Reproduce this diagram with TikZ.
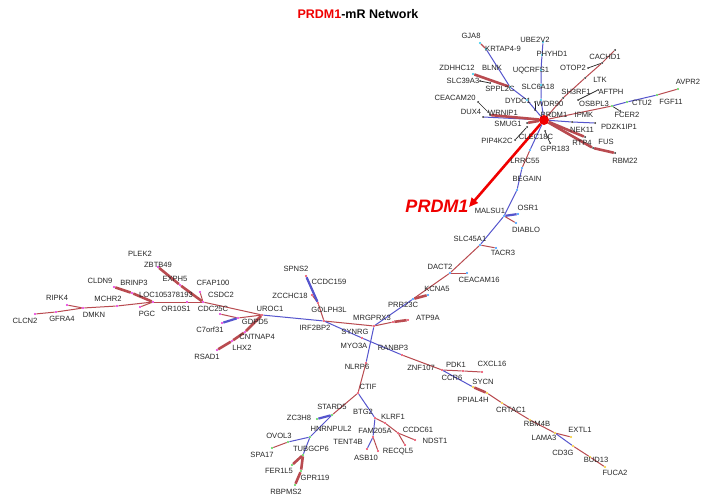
\documentclass[tikz,border=0pt]{standalone}
\usepackage{fontspec}
\setmainfont{Liberation Sans}
\usetikzlibrary{arrows.meta}
\definecolor{ered}{RGB}{185,75,80}
\definecolor{eblue}{RGB}{85,85,205}
\definecolor{dcyan}{RGB}{40,200,235}
\definecolor{dgreen}{RGB}{80,210,80}
\definecolor{dblue}{RGB}{50,150,255}
\definecolor{dpink}{RGB}{235,60,90}
\definecolor{dmag}{RGB}{230,40,220}
\definecolor{dyel}{RGB}{245,200,40}
\definecolor{dgrey}{RGB}{40,40,40}
\definecolor{hubred}{RGB}{240,0,0}
\pgfdeclarelayer{bg}
\pgfsetlayers{bg,main}
\tikzset{
  lbl/.style={font=\fontsize{7.6}{9}\selectfont, inner sep=0pt, text=black!85},
  dot/.style={circle, inner sep=0pt, minimum size=2.4pt, fill=#1},
  er/.style={draw=ered, line width=1pt},
  eb/.style={draw=eblue, line width=1pt},
  ert/.style={draw=ered, line width=2.6pt},
  ebt/.style={draw=eblue, line width=2.2pt},
  ek/.style={draw=black!85, line width=0.7pt},
}
\begin{document}
\begin{tikzpicture}[x=1pt,y=-1pt]
\useasboundingbox (0,0) rectangle (702,503);
\begin{pgfonlayer}{bg}
\fill[white] (0,0) rectangle (702,503);
\end{pgfonlayer}
% title
\node[font=\fontsize{12.5}{14}\bfseries\selectfont, inner sep=0pt] (title) at (358,14) {\textcolor{hubred}{PRDM1}-mR Network};
\node[font=\fontsize{18}{20}\bfseries\itshape\selectfont, text=hubred, inner sep=0pt] (bigp) at (437,206) {PRDM1};

% ---------- dots: top cluster ----------
\node[circle, inner sep=0pt, minimum size=10pt, fill=hubred] (H) at (544,120) {};
\foreach \n/\x/\y in {ub/543/42, u4/542/55, u3/541/70, u2/541/85, u1/541/100, gj/480/43, k2/486/49, k1/510/87, k0/527/100, zd/473/74}
  \node[dot=dcyan] (\n) at (\x,\y) {};
\foreach \n/\x/\y in {dx/483/117, wr/490/115, sm/527/123, lt/585/78, c1/563/98, c3/602/63, ca/615/50, pda/572/122, pdb/595/123, ne/585/137, rt/593/148, rb/615/153, sa/480/81, sb/490/83, cea/478/102, ceb/488/112, pia/515/140, pib/527/127, dya/535/102, dyb/535/110, ot/588/68, sha/578/100, shb/598/90, fc/620/111, gpa/545/131, gpb/550/143}
  \node[dot=dgrey, minimum size=2pt] (\n) at (\x,\y) {};
\foreach \n/\x/\y in {os/612/106, ctu/627/102, g2/657/95, av/678/89}
  \node[dot=dgreen] (\n) at (\x,\y) {};
\coordinate (atip) at (469,207);

% ---------- dots: middle ----------
\foreach \n/\x/\y in {lr/530/150, lrb/522/168, bg/517/190, ma/504/216, osr/518/214, di/516/223, sl/480/245, ta/496/248, da/450/273, ce16/467/273, kc/428/295, pr/413/299}
  \node[dot=dblue] (\n) at (\x,\y) {};
\foreach \n/\x/\y in {mr/374/326, ata/393/322, at/408/320, ir/324/321, go/318/303, zc/312/295, sp/306/276, ur/262/315, sy/362/338, ra/402/355, nl/366/363, zn/442/370, pdk/463/371, cx/482/372}
  \node[dot=dpink] (\n) at (\x,\y) {};
\foreach \n/\x/\y in {sc/473/387, sc2/487/393, cr/502/403, rb4/530/420, la/555/433, ex/571/437, cd/573/446, bu/590/457, fu/605/467}
  \node[dot=dyel] (\n) at (\x,\y) {};
% ---------- dots: bottom ----------
\foreach \n/\x/\y in {st/332/415, z3/317/419, hn/310/437, ov/288/442, spa/272/448, tu/303/455, fe/292/465, gp/301/471, rbp/295/485}
  \node[dot=dgreen] (\n) at (\x,\y) {};
\foreach \n/\x/\y in {ct/358/393, bt/375/418, kl/385/423, cc/398/433, nd/415/440, ccb/405/445, fa/373/437, as/367/449, re/378/451}
  \node[dot=dpink] (\n) at (\x,\y) {};
% ---------- dots: left ----------
\foreach \n/\x/\y in {cdc/203/302, or/187/302, loc/153/302, pg/140/307, mc/117/306, dm/83/308, gf/56/312, cl/35/314, ri/67/305, br/132/293, cdn/114/287, exh/180/285, zb/158/267, cf/200/292, gd/238/318, c7a/220/314, c7b/222/323, cn/245/332, lh/232/341, rs/217/350}
  \node[dot=dmag] (\n) at (\x,\y) {};

% ---------- edges ----------
\begin{pgfonlayer}{bg}
% top cluster
\draw[eb] (H) -- (u1) -- (u2) -- (u3) -- (u4) -- (ub);
\draw[eb] (H) -- (k0) -- (k1) -- (k2);
\draw[er, line width=1.3pt] (k2) -- (gj);
\draw[ert] (zd) -- (k1);
\draw[ek] (sa) -- (sb);
\draw[ek] (cea) -- (ceb);
\draw[ek] (pia) -- (pib);
\draw[ek] (dya) -- (dyb);
\draw[ek] (ot) -- (c3);
\draw[ek] (sha) -- (shb);
\draw[ek] (fc) -- (os);
\draw[ek] (gpa) -- (gpb);
\draw[eb] (H) -- (dx);
\draw[ert] (H) -- (wr);
\draw[ert] (H) -- (sm);
\draw[er] (H) -- (c1) -- (lt) -- (c3) -- (ca);
\draw[er] (H) -- (os);
\draw[eb] (os) -- (ctu) -- (g2);
\draw[er] (g2) -- (av);
\draw[eb] (H) -- (pda) -- (pdb);
\draw[ert] (H) -- (ne);
\draw[ert] (H) -- (rt) -- (rb);
\draw[hubred, line width=2.6pt, -{Triangle[length=9pt,width=8pt]}] (H) -- (atip);
% middle chain
\draw[eb] (H) -- (lr);
\draw[er] (lr) -- (lrb);
\draw[eb] (lrb) -- (bg) -- (ma);
\draw[ebt] (ma) -- (osr);
\draw[er] (ma) -- (di);
\draw[eb] (ma) -- (sl);
\draw[er] (sl) -- (ta);
\draw[er] (sl) -- (da);
\draw[er] (da) -- (ce16);
\draw[er] (da) -- (pr);
\draw[ert] (pr) -- (kc);
\draw[eb] (pr) -- (mr);
\draw[er] (mr) -- (ata);
\draw[ert] (ata) -- (at);
\draw[er] (mr) -- (ir);
\draw[eb] (mr) -- (nl);
\draw[eb] (ir) -- (sy) -- (ra);
\draw[er] (ir) -- (go) -- (zc);
\draw[ebt] (go) -- (sp);
\draw[eb] (ir) -- (ur);
\draw[er] (ra) -- (zn);
\draw[er] (zn) -- (pdk) -- (cx);
\draw[eb] (zn) -- (sc);
\draw[ert] (sc) -- (sc2);
\draw[er] (sc2) -- (cr) -- (rb4) -- (la);
\draw[er] (la) -- (ex);
\draw[eb] (la) -- (cd);
\draw[er] (cd) -- (bu) -- (fu);
% bottom
\draw[er] (nl) -- (ct);
\draw[er] (ct) -- (st);
\draw[ebt] (st) -- (z3);
\draw[eb] (st) -- (hn);
\draw[eb] (hn) -- (ov);
\draw[er] (ov) -- (spa);
\draw[eb] (hn) -- (tu);
\draw[ert] (tu) -- (fe);
\draw[ert] (tu) -- (gp) -- (rbp);
\draw[eb] (ct) -- (bt);
\draw[er] (bt) -- (kl) -- (cc);
\draw[er] (cc) -- (nd);
\draw[er] (cc) -- (ccb);
\draw[eb] (bt) -- (fa) -- (as);
\draw[er] (fa) -- (re);
% left
\draw[er] (ur) -- (cdc);
\draw[er] (ur) -- (gd);
\draw[er] (gd) -- (c7a);
\draw[ebt] (gd) -- (c7b);
\draw[ert] (ur) -- (cn) -- (lh) -- (rs);
\draw[er] (cdc) -- (or) -- (loc);
\draw[ert] (cdc) -- (exh) -- (zb);
\draw[er] (cdc) -- (cf);
\draw[er] (loc) -- (pg);
\draw[er] (loc) -- (mc) -- (dm) -- (gf) -- (cl);
\draw[er] (dm) -- (ri);
\draw[ert] (loc) -- (br) -- (cdn);
\end{pgfonlayer}

% ---------- labels ----------
\foreach \n/\x/\y/\t in {
 t1/471/36/GJA8, t2/503/49/KRTAP4-9, t3/535/40/UBE2V2, t4/552/54/PHYHD1, t5/531/71/UQCRFS1,
 t6/538/87/SLC6A18, t7/550/104/WDR90, t8/457/68/ZDHHC12, t9/492/68/BLNK, t10/463/81/SLC39A3,
 t11/500/89/SPPL2C, t12/518/101/DYDC1, t13/455/98/CEACAM20, t14/471/112/DUX4, t15/503/113/WRNIP1,
 t16/508/124/SMUG1, t17/497/141/PIP4K2C, t18/536/137/CLEC18C, t19/555/149/GPR183, t20/525/161/LRRC55,
 t21/527/179/BEGAIN, t22/554/115/PRDM1, t23/584/115/IPMK, t24/627/115/FCER2, t25/619/127/PDZK1IP1,
 t26/582/130/NEK11, t27/582/143/RTP4, t28/606/142/FUS, t29/625/161/RBM22, t30/594/104/OSBPL3,
 t31/642/103/CTU2, t32/671/102/FGF11, t33/688/82/AVPR2, t34/605/57/CACHD1, t35/573/68/OTOP2,
 t36/600/80/LTK, t37/576/92/SH3RF1, t38/611/92/AFTPH,
 m1/490/211/MALSU1, m2/528/208/OSR1, m3/526/230/DIABLO, m4/470/239/SLC45A1, m5/503/253/TACR3,
 m6/440/267/DACT2, m7/479/280/CEACAM16, m8/437/289/KCNA5, m9/403/305/PRR23C, m10/428/318/ATP9A,
 m11/372/318/MRGPRX3, m12/315/328/IRF2BP2, m13/329/310/GOLPH3L, m14/290/296/ZCCHC18, m15/296/269/SPNS2,
 m16/329/282/CCDC159, m17/270/309/UROC1, m18/355/332/SYNRG, m19/354/346/MYO3A, m20/393/348/RANBP3,
 m21/357/367/NLRP6, m22/421/368/ZNF107, m23/456/365/PDK1, m24/492/364/CXCL16, m25/452/378/CCR6,
 m26/483/382/SYCN, m27/473/400/PPIAL4H, m28/511/410/CRTAC1, m29/537/424/RBM4B, m30/544/438/LAMA3,
 m31/580/430/EXTL1, m32/563/453/CD3G, m33/596/460/BUD13, m34/615/473/FUCA2,
 b1/368/387/CTIF, b2/332/407/STARD5, b3/363/412/BTG2, b4/299/418/ZC3H8, b5/331/429/HNRNPUL2,
 b6/375/431/FAM205A, b7/348/442/TENT4B, b8/393/417/KLRF1, b9/418/430/CCDC61, b10/435/441/NDST1,
 b11/398/452/RECQL5, b12/366/458/ASB10, b13/279/436/OVOL3, b14/262/455/SPA17, b15/311/449/TUBGCP6,
 b16/279/471/FER1L5, b17/315/478/GPR119, b18/286/492/RBPMS2,
 l1/25/321/CLCN2, l2/62/319/GFRA4, l3/94/315/DMKN, l4/57/298/RIPK4, l5/108/299/MCHR2,
 l6/100/281/CLDN9, l7/134/283/BRINP3, l8/147/314/PGC, l9/166/295/LOC105378193, l10/176/309/OR10S1,
 l11/213/309/CDC25C, l12/221/295/CSDC2, l13/213/283/CFAP100, l14/175/279/EXPH5, l15/158/265/ZBTB49,
 l16/140/254/PLEK2, l17/255/322/GDPD5, l18/210/330/C7orf31, l19/257/337/CNTNAP4, l20/242/348/LHX2,
 l21/207/357/RSAD1}
  \node[lbl] (\n) at (\x,\y) {\t};
\end{tikzpicture}
\end{document}
